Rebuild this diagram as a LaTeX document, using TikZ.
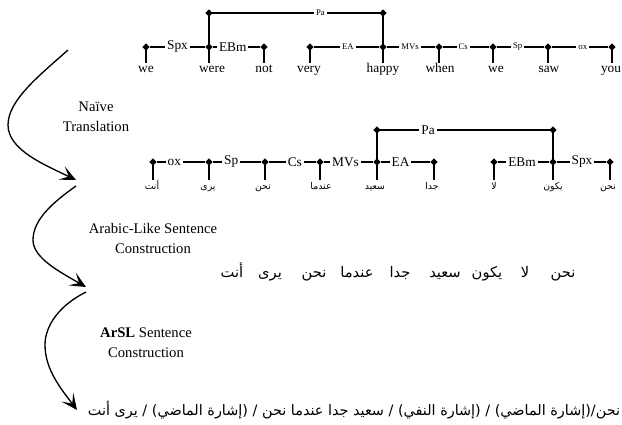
\documentclass[tikz,border=0pt]{standalone}
\usepackage{fontspec}
\setmainfont{Liberation Serif}
\newfontfamily\arabicfont[Script=Arabic]{DejaVu Sans}
\TeXXeTstate=1
\usetikzlibrary{shapes.geometric,arrows.meta}
\begin{document}
\begin{tikzpicture}[x=0.75pt,y=-0.75pt,
  dot/.style={diamond,fill=black,inner sep=0pt,minimum size=5.5pt},
  lnk/.style={line width=0.9pt},
  lab/.style={fill=white,inner xsep=1.5pt,inner ysep=0.5pt,font=\fontsize{10}{12}\selectfont},
  slab/.style={fill=white,inner xsep=1.5pt,inner ysep=0.5pt,font=\fontsize{6.5}{8}\selectfont},
  word/.style={inner sep=0pt,anchor=north,text height=7pt,text depth=2pt,font=\fontsize{10}{12}\selectfont},
  aword/.style={inner sep=0pt,anchor=north,text height=7pt,text depth=3pt,font=\arabicfont\fontsize{7}{8}\selectfont},
  rowword/.style={inner sep=0pt,anchor=base,font=\arabicfont\fontsize{11}{13}\selectfont},
  caption/.style={align=center,font=\fontsize{11}{15}\selectfont,inner sep=0pt},
  flow/.style={line width=1pt,-{Stealth[length=12pt,width=11pt,inset=6pt]}}]
\useasboundingbox (0,0) rectangle (622,425);

% ---------- linkage 1 (English) ----------
\foreach \n/\x in {1/146,2/209,3/264,4/310,5/383,6/439,7/493,8/548,9/612}
  \node[dot] (a\n) at (\x,47) {};
\node[dot] (pa1) at (209,13) {};
\node[dot] (pa2) at (383,13) {};
\node[word] (wa1) at (146,63) {we};
\node[word] (wa2) at (212,63) {were};
\node[word] (wa3) at (264,63) {not};
\node[word] (wa4) at (309,63) {very};
\node[word] (wa5) at (383,63) {happy};
\node[word] (wa6) at (440,63) {when};
\node[word] (wa7) at (496,63) {we};
\node[word] (wa8) at (549,63) {saw};
\node[word] (wa9) at (611,63) {you};
\foreach \n in {1,...,9}
  \draw[lnk] (a\n.center) -- (a\n.center |- wa\n.north);
\draw[lnk] (a2.center) -- (pa1.center) -- node[slab,pos=0.64] {Pa} (pa2.center) -- (a5.center);
\draw[lnk] (a1) -- node[lab,pos=0.5] {Spx} (a2);
\draw[lnk] (a2) -- node[lab,pos=0.42] {EBm} (a3);
\draw[lnk] (a4) -- node[slab,pos=0.52] {EA} (a5);
\draw[lnk] (a5) -- node[slab,pos=0.48] {MVs} (a6);
\draw[lnk] (a6) -- node[slab,pos=0.44] {Cs} (a7);
\draw[lnk] (a7) -- node[slab,pos=0.44] {Sp} (a8);
\draw[lnk] (a8) -- node[slab,pos=0.55] {ox} (a9);

% ---------- linkage 2 (Arabic words) ----------
\foreach \n/\x in {1/153,2/209,3/265,4/320,5/377,6/434,7/494,8/553,9/610}
  \node[dot] (b\n) at (\x,162) {};
\node[dot] (pb1) at (377,130) {};
\node[dot] (pb2) at (553,130) {};
\node[aword] (wb1) at (152,180) {\beginR أنت\endR};
\node[aword] (wb2) at (208,180) {\beginR يرى\endR};
\node[aword] (wb3) at (263,180) {\beginR نحن\endR};
\node[aword] (wb4) at (321,180) {\beginR عندما\endR};
\node[aword] (wb5) at (375,180) {\beginR سعيد\endR};
\node[aword] (wb6) at (432,180) {\beginR جدا\endR};
\node[aword] (wb7) at (494,180) {\beginR لا\endR};
\node[aword] (wb8) at (553,180) {\beginR يكون\endR};
\node[aword] (wb9) at (608,180) {\beginR نحن\endR};
\foreach \n in {1,...,9}
  \draw[lnk] (b\n.center) -- (b\n.center |- wb\n.north);
\draw[lnk] (b5.center) -- (pb1.center) -- node[lab,pos=0.29] {Pa} (pb2.center) -- (b8.center);
\draw[lnk] (b1) -- node[lab,pos=0.36] {ox} (b2);
\draw[lnk] (b2) -- node[lab,pos=0.38] {Sp} (b3);
\draw[lnk] (b3) -- node[lab,pos=0.55] {Cs} (b4);
\draw[lnk] (b4) -- node[lab,pos=0.44] {MVs} (b5);
\draw[lnk] (b5) -- node[lab,pos=0.40] {EA} (b6);
\draw[lnk] (b7) -- node[lab,pos=0.47] {EBm} (b8);
\draw[lnk] (b8) -- node[lab,pos=0.51] {Spx} (b9);

% ---------- Arabic-like sentence ----------
\node[rowword] (r1) at (563,277) {\beginR نحن\endR};
\node[rowword] (r2) at (525,277) {\beginR لا\endR};
\node[rowword] (r3) at (487,277) {\beginR يكون\endR};
\node[rowword] (r4) at (445,277) {\beginR سعيد\endR};
\node[rowword] (r5) at (400,277) {\beginR جدا\endR};
\node[rowword] (r6) at (357,277) {\beginR عندما\endR};
\node[rowword] (r7) at (314,277) {\beginR نحن\endR};
\node[rowword] (r8) at (270,277) {\beginR يرى\endR};
\node[rowword] (r9) at (232,277) {\beginR أنت\endR};

% ---------- ArSL sentence ----------
\node[inner sep=0pt,font=\arabicfont\fontsize{10.8}{13}\selectfont] (s1) at (354,410) {\beginR نحن/(إشارة الماضي) / (إشارة النفي) / سعيد جدا عندما نحن / (إشارة الماضي) / يرى أنت\endR};

% ---------- captions ----------
\node[caption] (c1) at (96,117) {Naïve\\Translation};
\node[caption] (c2) at (153,238) {Arabic-Like Sentence\\Construction};
\node[caption] (c3) at (146,343) {\textbf{ArSL} Sentence\\Construction};

% ---------- flow arrows ----------
\coordinate (f0) at (68,50);
\coordinate (f1) at (8,125);
\coordinate (f2) at (76,180);
\coordinate (g0) at (76,186);
\coordinate (g1) at (33,240);
\coordinate (g2) at (86,287);
\coordinate (h0) at (86,292);
\coordinate (h1) at (45,345);
\coordinate (h2) at (77,410);
\draw[flow] (f0) .. controls (40,75) and (8,100) .. (f1) .. controls (8,150) and (45,165) .. (f2);
\draw[flow] (g0) .. controls (52,203) and (33,220) .. (g1) .. controls (33,258) and (60,272) .. (g2);
\draw[flow] (h0) .. controls (60,305) and (45,325) .. (h1) .. controls (45,370) and (62,390) .. (h2);
\end{tikzpicture}
\end{document}
